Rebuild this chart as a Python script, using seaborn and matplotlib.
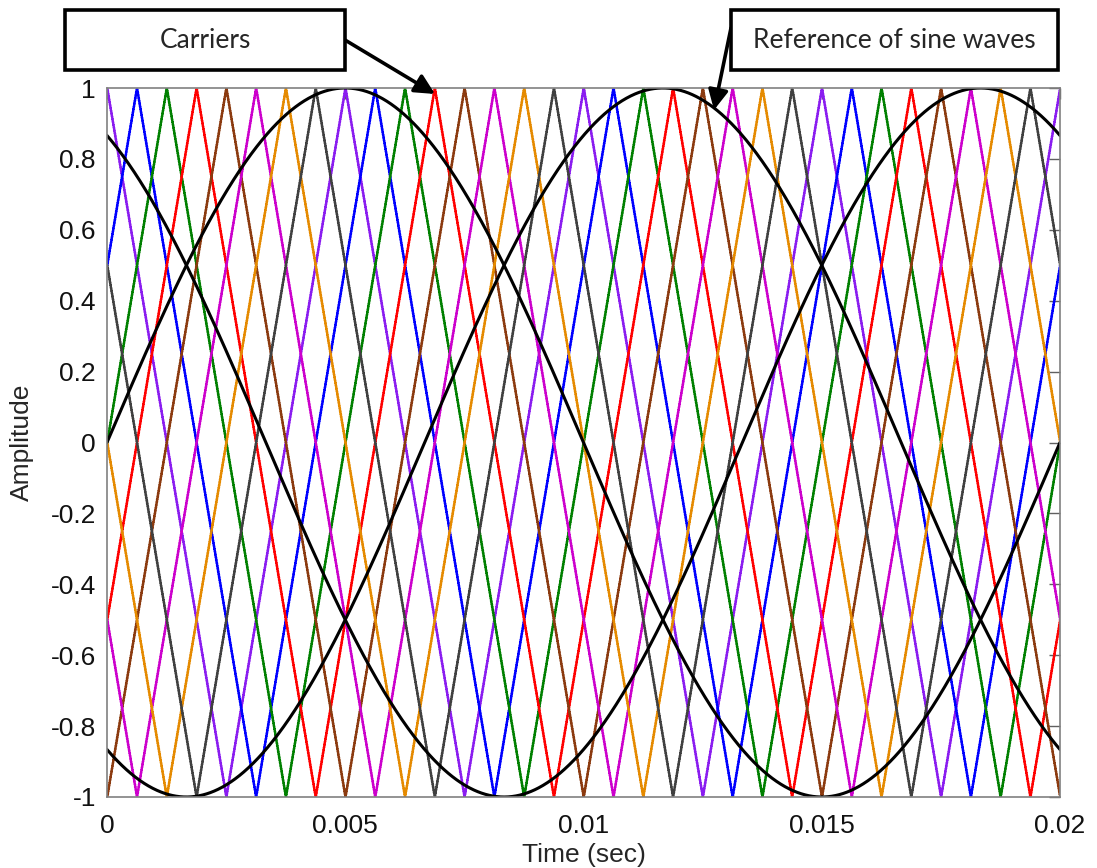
import numpy as np
import pandas as pd
import matplotlib
matplotlib.use("Agg")
import matplotlib.pyplot as plt
from matplotlib.patches import Rectangle, FancyArrowPatch
import seaborn as sns

# Signal parameters
ref_freq = 50.0            # Hz, three-phase reference
ref_phases_deg = [0, -120, 120]
carrier_freq = 200.0       # Hz, triangular carriers
carrier_names = ["c1", "c2", "c3", "c4", "c5", "c6", "c7", "c8"]
carrier_peak_times = [0.0, 0.000625, 0.00125, 0.001875, 0.0025, 0.003125, 0.00375, 0.004375]
carrier_colors = ["#8a1cf0", "#0000ff", "#008000", "#ff0000", "#8b3a0f", "#cc00cc", "#e58a00", "#404040"]
t_end = 0.02
sample_time = 1e-5

x_ticks = [0, 0.005, 0.01, 0.015, 0.02]
x_tick_labels = ["0", "0.005", "0.01", "0.015", "0.02"]
y_ticks = [1, 0.8, 0.6, 0.4, 0.2, 0, -0.2, -0.4, -0.6, -0.8, -1]
y_tick_labels = ["1", "0.8", "0.6", "0.4", "0.2", "0", "-0.2", "-0.4", "-0.6", "-0.8", "-1"]

sns.set_style("white")
plt.rcParams["font.family"] = ["Liberation Sans", "DejaVu Sans"]
plt.rcParams["axes.unicode_minus"] = False

t = np.arange(0, t_end + sample_time / 2, sample_time)
period = 1.0 / carrier_freq

rows = []
for name, tp in zip(carrier_names, carrier_peak_times):
    frac = np.mod((t - tp) / period, 1.0)
    val = 2 * np.abs(2 * frac - 1) - 1
    rows.append(pd.DataFrame({"t": t, "v": val, "carrier": name}))
carriers = pd.concat(rows, ignore_index=True)

ref_rows = []
for i, ph in enumerate(ref_phases_deg):
    ref_rows.append(pd.DataFrame({"t": t, "v": np.sin(2 * np.pi * ref_freq * t + np.deg2rad(ph)), "phase": f"p{i}"}))
refs = pd.concat(ref_rows, ignore_index=True)

fig = plt.figure(figsize=(10.97, 8.68), dpi=100)
ax = fig.add_axes([107 / 1097, 1 - 797 / 868, 953 / 1097, 709 / 868])

sns.lineplot(data=carriers, x="t", y="v", hue="carrier", palette=dict(zip(carrier_names, carrier_colors)),
             estimator=None, sort=False, legend=False, linewidth=1.7, drawstyle="steps-post", ax=ax)
sns.lineplot(data=refs, x="t", y="v", units="phase", color="black", estimator=None, sort=False,
             legend=False, linewidth=2.2, ax=ax)

ax.set_xlim(0, t_end)
ax.set_ylim(-1, 1)
ax.set_xticks(x_ticks)
ax.set_xticklabels(x_tick_labels)
ax.set_yticks(y_ticks)
ax.set_yticklabels(y_tick_labels)
ax.tick_params(direction="in", length=8, width=1, color="#606060", top=True, right=True,
               labelsize=19, labelcolor="#111111")
ax.tick_params(axis="x", pad=12)
ax.tick_params(axis="y", pad=8)
for sp in ax.spines.values():
    sp.set_color("#808080")
    sp.set_linewidth(1.2)
ax.set_xlabel("Time (sec)", fontsize=19, labelpad=4)
ax.set_ylabel("Amplitude", fontsize=19, labelpad=12)

# Callout boxes
W, H = 1097, 868
def callout(x0, y0, x1, y1, text):
    fig.patches.append(Rectangle((x0 / W, 1 - y1 / H), (x1 - x0) / W, (y1 - y0) / H,
                                 transform=fig.transFigure, facecolor="white", edgecolor="black",
                                 linewidth=2.6, zorder=5))
    fig.text((x0 + x1) / 2 / W, 1 - (y0 + y1) / 2 / H, text, ha="center", va="center",
             fontsize=19, family=["Lato", "DejaVu Sans"], zorder=6)

callout(65, 10, 345, 70, "Carriers")
callout(731, 10, 1058, 70, "Reference of sine waves")

arrow_kw = dict(arrowstyle="-|>", color="black", lw=2.6, mutation_scale=30, shrinkA=0, shrinkB=0)
fig.add_artist(FancyArrowPatch((345 / W, 1 - 40 / H), (435 / W, 1 - 94 / H),
                               transform=fig.transFigure, **arrow_kw))
fig.add_artist(FancyArrowPatch((731 / W, 1 - 28 / H), (714 / W, 1 - 110 / H),
                               transform=fig.transFigure, **arrow_kw))

fig.savefig("out.png", dpi=100)
